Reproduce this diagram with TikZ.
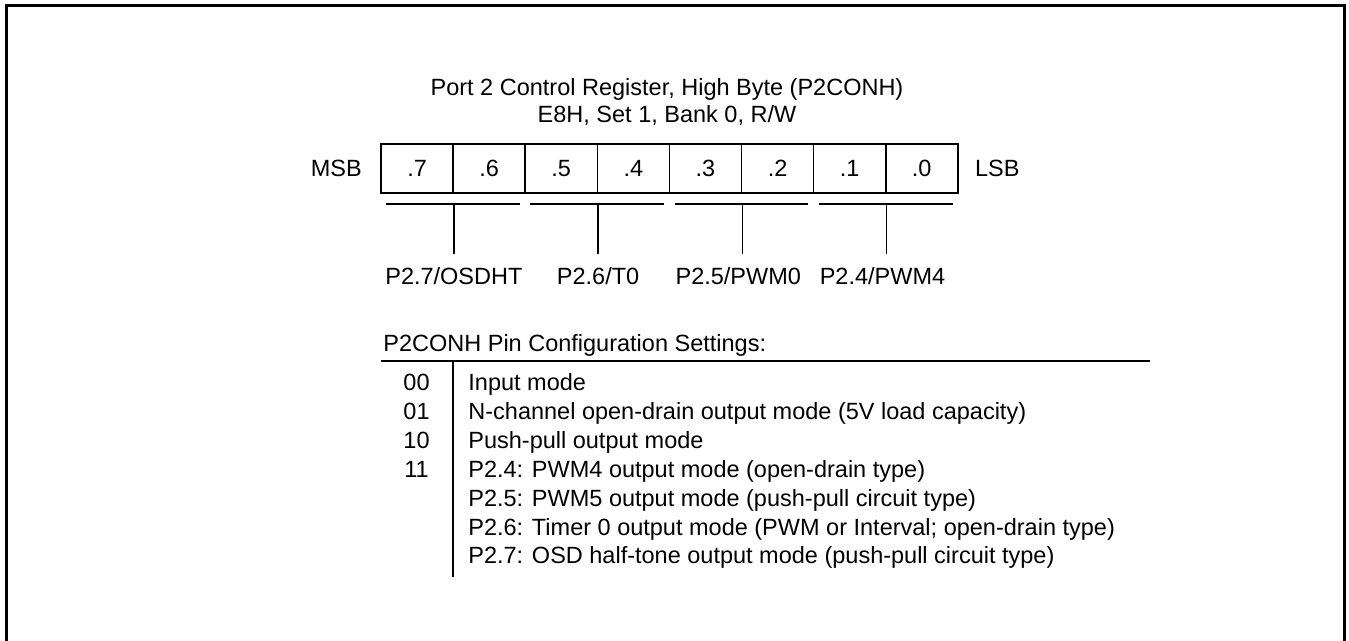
\documentclass[tikz,border=0pt]{standalone}
\usepackage{fontspec}
\setmainfont{Liberation Sans}
\usetikzlibrary{positioning, calc}

\begin{document}
\begin{tikzpicture}[x=0.5pt,y=-0.5pt,
		txt/.style={inner sep=0pt, font=\fontsize{11.75}{14}\selectfont},
		cell/.style={txt, draw, line width=0.8pt, minimum width=36.05pt, minimum height=24.5pt},
		pinlbl/.style={txt, anchor=north, inner ysep=7pt, text height=8.4pt, text depth=0pt},
		rule/.style={line width=1pt},
		thin rule/.style={line width=0.8pt}]
	\useasboundingbox (0,0) rectangle (1349,641);
	\draw[line width=1.5pt] (6.5,650) -- (6.5,5.5) -- (1344.5,5.5) -- (1344.5,650);

	\node[txt, anchor=base] (title) at (667,96) {Port 2 Control Register, High Byte (P2CONH)};
	\node[txt, anchor=base] (addr) at (667,123) {E8H, Set 1, Bank 0, R/W};

	\foreach \b [count=\k from 0] in {7,...,0}
		\node[cell] (b\b) at ({381+72.1*(\k+0.5)},168.5) {.\b};
	\node[txt, left=9pt of b7] (msb) {MSB};
	\node[txt, right=8pt of b0] (lsb) {LSB};

	\foreach \hi/\lo/\dx/\name in {7/6/0/{P2.7/OSDHT}, 5/4/0/{P2.6/T0}, 3/2/-4/{P2.5/PWM0}, 1/0/-4/{P2.4/PWM4}} {
		\coordinate (m\hi) at ($(b\hi.south east)+(0,10)$);
		\draw[rule] ($(b\hi.south west)+(6,10)$) -- ($(b\lo.south east)+(-6,10)$);
		\node[pinlbl] (pin\hi) at ($(m\hi)+(\dx,50)$) {\name};
		\draw[thin rule] (m\hi) -- (m\hi |- pin\hi.north);
	}

	\node[txt, anchor=base west] (cfg) at (383,352) {P2CONH Pin Configuration Settings:};
	\coordinate (hl) at (381,361);
	\coordinate (hr) at (1150,361);
	\draw[rule] (hl) -- (hr);
	\coordinate (vt) at (453,361);
	\coordinate (vb) at (453,577);
	\draw[thin rule] (vt) -- (vb);

	\foreach \c/\t [count=\r from 0] in {00/Input mode, 01/N-channel open-drain output mode (5V load capacity), 10/Push-pull output mode, 11/P2.4: PWM4 output mode (open-drain type), {}/P2.5: PWM5 output mode (push-pull circuit type), {}/P2.6: Timer 0 output mode (PWM or Interval; open-drain type), {}/P2.7: OSD half-tone output mode (push-pull circuit type)} {
		\node[txt, anchor=base] (code\r) at (416.5,{391+28.83*\r}) {\c};
		\node[txt, anchor=base west] (mode\r) at (468,{391+28.83*\r}) {\t};
	}
\end{tikzpicture}
\end{document}
